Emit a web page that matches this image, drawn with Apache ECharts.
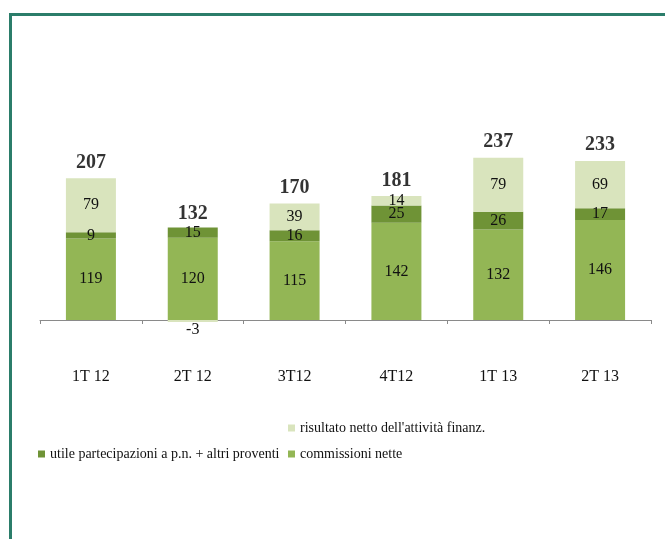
<!DOCTYPE html>
<html>
<head>
<meta charset="utf-8">
<script src="https://cdn.jsdelivr.net/npm/echarts@6/dist/echarts.min.js"></script>
<style>
  html, body { margin: 0; padding: 0; background: #fff; }
  #frame { position: absolute; left: 9px; top: 13px; width: 700px; height: 600px;
           border-left: 3px solid #2b7d6a; border-top: 3px solid #2b7d6a; }
  #chart { position: absolute; left: 0; top: 0; width: 665px; height: 539px; }
</style>
</head>
<body>
<div id="frame"></div>
<div id="chart"></div>
<script>
// trimestri
var quarters = ['1T 12', '2T 12', '3T12', '4T12', '1T 13', '2T 13'];

// serie
var commissioni = [119, 120, 115, 142, 132, 146];
var utile = [9, 15, 16, 25, 26, 17];
var risultato = [79, -3, 39, 14, 79, 69];
var totals = [207, 132, 170, 181, 237, 233];

var serif = 'Liberation Serif';

var myChart = echarts.init(document.getElementById('chart'));

// etichetta sotto l'asse per i valori negativi
var risultatoData = risultato.map(function (v) {
    if (v < 0) {
        return { value: v, label: { position: 'bottom', distance: 0 } };
    }
    return v;
});

var segLabel = {
    show: true,
    position: 'inside',
    color: '#111',
    fontFamily: serif,
    fontSize: 16
};

var legendText = { fontFamily: serif, fontSize: 14, color: '#111' };

var option = {
    animation: false,
    legend: [
        { data: ['risultato netto dell\'attività finanz.'], left: 283, top: 416, icon: 'rect',
          itemWidth: 7, itemHeight: 7, itemGap: 10, textStyle: legendText, selectedMode: false },
        { data: ['utile partecipazioni a p.n. + altri proventi'], left: 33, top: 442, icon: 'rect',
          itemWidth: 7, itemHeight: 7, textStyle: legendText, selectedMode: false },
        { data: ['commissioni nette'], left: 283, top: 442, icon: 'rect',
          itemWidth: 7, itemHeight: 7, textStyle: legendText, selectedMode: false }
    ],
    grid: { left: 40, right: 14, top: 148.75, bottom: 184.75 },
    xAxis: {
        type: 'category',
        data: quarters,
        axisLine: { onZero: true, lineStyle: { color: '#8a8a8a', width: 1 } },
        axisTick: { show: true, length: 4, lineStyle: { color: '#8a8a8a' } },
        axisLabel: { margin: 15, color: '#111', fontFamily: serif, fontSize: 16 }
    },
    yAxis: {
        type: 'value',
        min: -50,
        max: 250,
        show: false
    },
    series: [
        {
            name: 'commissioni nette',
            type: 'bar',
            stack: 'tot',
            barWidth: 50,
            data: commissioni,
            itemStyle: { color: '#93b655' },
            label: segLabel
        },
        {
            name: 'utile partecipazioni a p.n. + altri proventi',
            type: 'bar',
            stack: 'tot',
            barWidth: 50,
            data: utile,
            itemStyle: { color: '#6f9336' },
            label: segLabel
        },
        {
            name: 'risultato netto dell\'attività finanz.',
            type: 'bar',
            stack: 'tot',
            barWidth: 50,
            data: risultatoData,
            itemStyle: { color: '#d9e4bd' },
            label: segLabel
        },
        {
            name: 'totale',
            type: 'scatter',
            data: totals,
            symbolSize: 1,
            itemStyle: { color: 'rgba(0,0,0,0)' },
            label: {
                show: true,
                position: 'top',
                distance: 5,
                color: '#000',
                fontFamily: serif,
                fontWeight: 'bold',
                fontSize: 20
            }
        }
    ]
};

myChart.setOption(option);
</script>
</body>
</html>
